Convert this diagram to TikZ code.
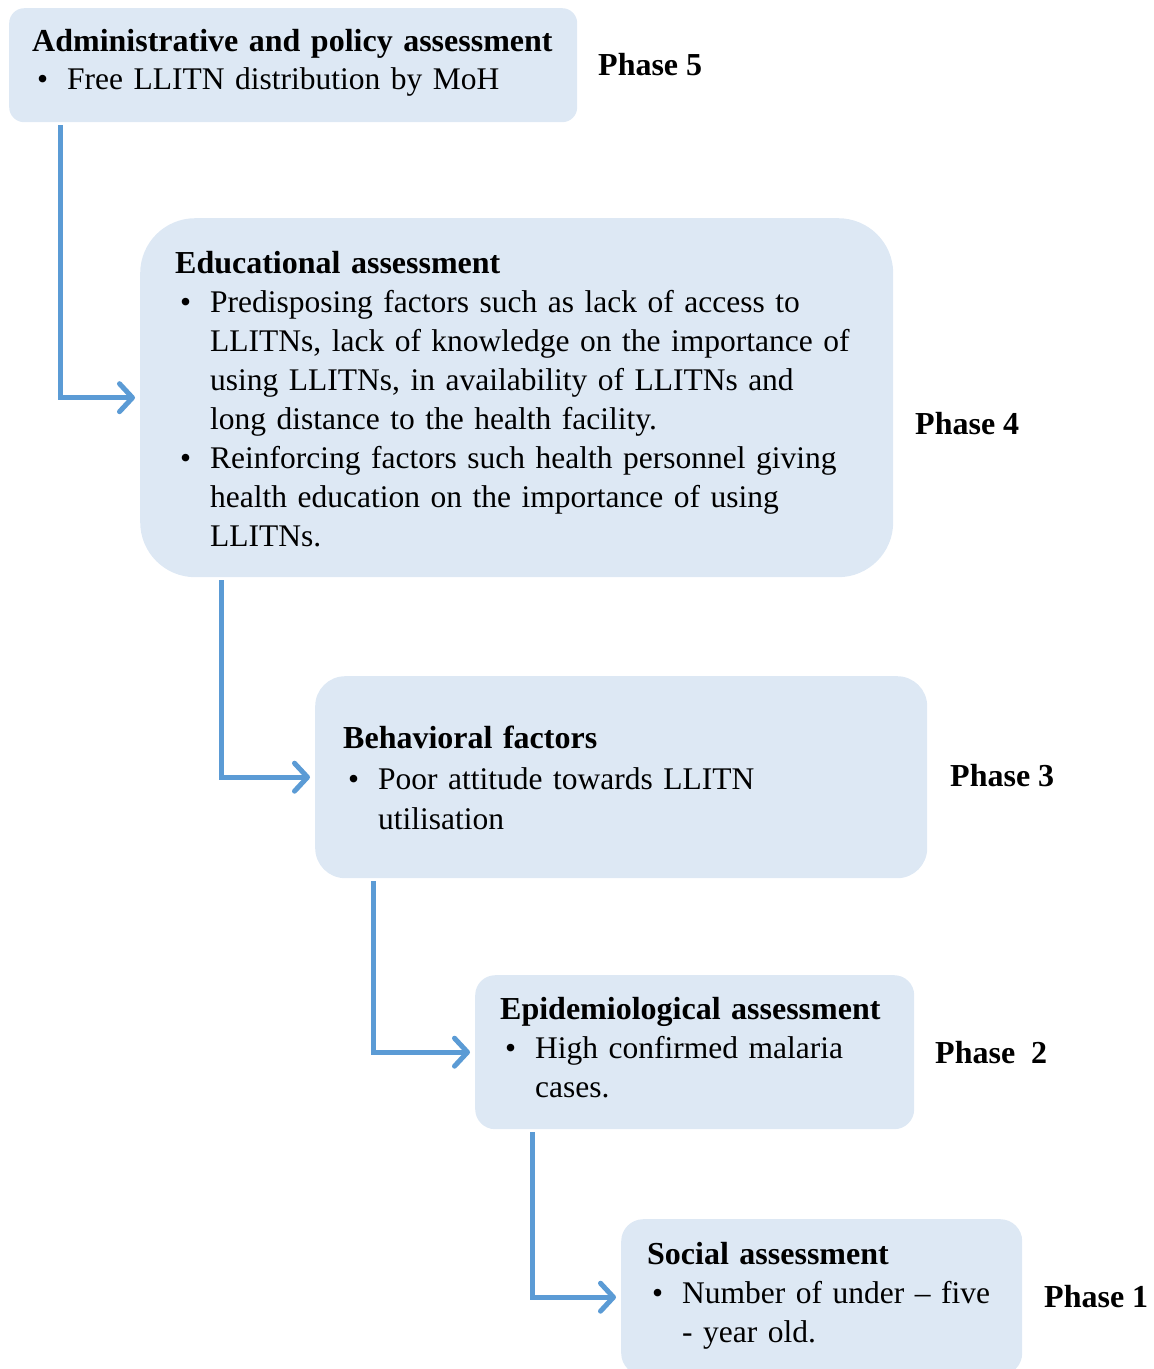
\documentclass[tikz,border=0pt]{standalone}
\usepackage{fontspec}
\setmainfont{Liberation Serif}
\usetikzlibrary{arrows.meta}
\definecolor{boxfill}{HTML}{DDE8F4}
\definecolor{arrowblue}{HTML}{5B9BD5}
\setlength{\parindent}{0pt}
\newcommand{\blt}{\hspace*{5pt}\makebox[30pt][l]{\textbullet}}
\newcommand{\hang}{\hangindent=35pt\hangafter=1}
\newcommand{\hd}[1]{{\fontsize{32}{39}\selectfont\bfseries #1}}
\tikzset{
  box/.style={fill=boxfill, draw=none, anchor=north west, inner sep=0pt},
  txt/.style={anchor=north west, inner sep=0pt, text width=800pt, font=\fontsize{31.5}{39}\selectfont},
  phase/.style={anchor=base west, inner sep=0pt, font=\fontsize{32}{39}\selectfont\bfseries},
  conn/.style={draw=arrowblue, line width=5pt, -{Straight Barb[length=13pt,width=28pt,round]}, shorten >=5pt, shorten <=3pt}
}
\begin{document}
\begin{tikzpicture}[x=1pt,y=-1pt]
\useasboundingbox (0,0) rectangle (1154,1369);
% boxes
\node[box, minimum width=568pt, minimum height=114pt, rounded corners=15pt] (b5) at (9,8) {};
\node[box, minimum width=753pt, minimum height=359pt, rounded corners=55pt] (b4) at (140,218) {};
\node[box, minimum width=612pt, minimum height=202pt, rounded corners=30pt] (b3) at (315,676) {};
\node[box, minimum width=439pt, minimum height=154pt, rounded corners=20pt] (b2) at (475,975) {};
\node[box, minimum width=401pt, minimum height=156pt, rounded corners=22pt] (b1) at (621,1219) {};
% texts
\node[txt, font=\fontsize{31.5}{38}\selectfont] (t5) at (32,29) {\hd{Administrative and policy assessment}\par
\hang\blt Free LLITN distribution by MoH\par};
\node[txt] (t4) at (175,251) {\hd{Educational assessment}\par
\hang\blt Predisposing factors such as lack of access to\newline
LLITNs, lack of knowledge on the importance of\newline
using LLITNs, in availability of LLITNs and\newline
long distance to the health facility.\par
\hang\blt Reinforcing factors such health personnel giving\newline
health education on the importance of using\newline
LLITNs.\par};
\node[txt, font=\fontsize{31.5}{40.5}\selectfont] (t3) at (343,726) {\hd{Behavioral factors}\par
\hang\blt Poor attitude towards LLITN\newline
utilisation\par};
\node[txt] (t2) at (500,997) {\hd{Epidemiological assessment}\par
\hang\blt High confirmed malaria\newline
cases.\par};
\node[txt] (t1) at (647,1242) {\hd{Social assessment}\par
\hang\blt Number of under \textendash{} five\newline
- year old.\par};
% phase labels
\node[phase] (p5) at (598,75) {Phase 5};
\node[phase] (p4) at (915,434) {Phase 4};
\node[phase] (p3) at (950,786) {Phase 3};
\node[phase] (p2) at (935,1063) {Phase\hspace{0.25em} 2};
\node[phase] (p1) at (1044,1307) {Phase 1};
% connectors
\draw[conn] ([xshift=51pt]b5.south west) |- (b4.west);
\draw[conn] ([xshift=81pt]b4.south west) |- (b3.west);
\draw[conn] ([xshift=58pt]b3.south west) |- (b2.west);
\draw[conn] ([xshift=57pt]b2.south west) |- (b1.west);
\end{tikzpicture}
\end{document}
